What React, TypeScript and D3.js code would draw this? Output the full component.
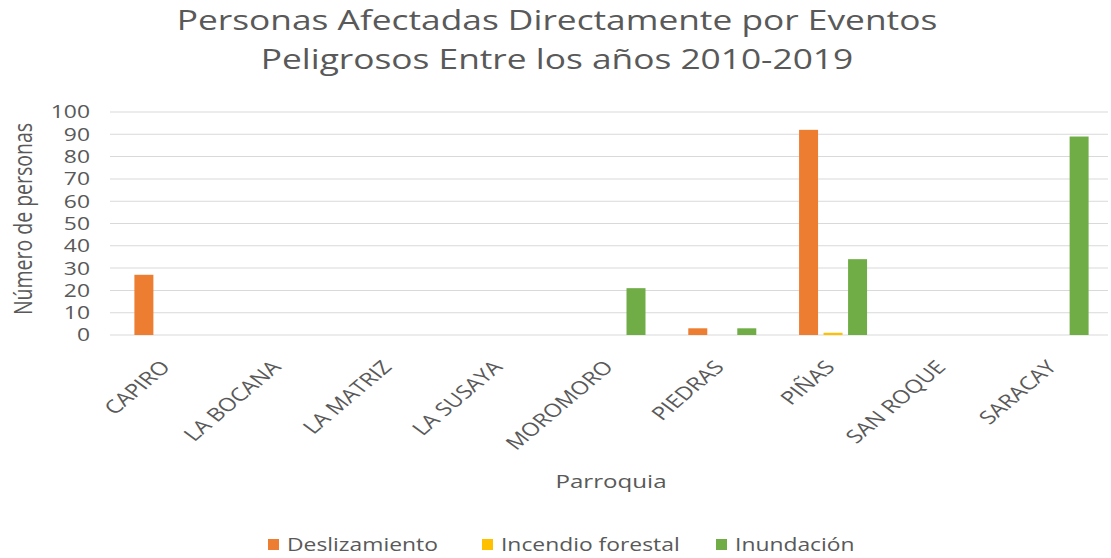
import React from "react";
import * as d3 from "d3";

const categories = ["CAPIRO", "LA BOCANA", "LA MATRIZ", "LA SUSAYA", "MOROMORO", "PIEDRAS", "PIÑAS", "SAN ROQUE", "SARACAY"];
const deslizamiento = [27, 0, 0, 0, 0, 3, 92, 0, 0];
const incendioForestal = [0, 0, 0, 0, 0, 0, 1, 0, 0];
const inundacion = [0, 0, 0, 0, 21, 3, 34, 0, 89];
const seriesNames = ["Deslizamiento", "Incendio forestal", "Inundación"];
const seriesColors = ["#ED7D31", "#FFC000", "#70AD47"];
const yTicks = [0, 10, 20, 30, 40, 50, 60, 70, 80, 90, 100];
const titleLines = ["Personas Afectadas Directamente por Eventos", "Peligrosos Entre los años 2010-2019"];

const W = 1111;
const H = 558;
const S = 1.27; // horizontal stretch of the reference image
const DW = W / S;
const sx = (x: number) => x / S; // screen x -> design x

const FONT = "'Open Sans', sans-serif";
const TXT = "#595959";

export default function App() {
  const seriesData = [deslizamiento, incendioForestal, inundacion];

  const x0 = d3.scaleBand<string>().domain(categories).range([sx(113), sx(1110)]).padding(0);
  const bw = x0.bandwidth();
  const step = sx(24.5);
  const x1 = d3
    .scaleBand<string>()
    .domain(seriesNames)
    .range([bw / 2 - 1.5 * step, bw / 2 + 1.5 * step])
    .paddingInner(0.225)
    .paddingOuter(0.1125);
  const y = d3.scaleLinear().domain([0, 100]).range([335, 112]);

  const legendX = [268, 482, 716];

  return (
    <svg
      width={W}
      height={H}
      viewBox={`0 0 ${DW} ${H}`}
      preserveAspectRatio="none"
      style={{ position: "fixed", left: 0, top: 0, background: "#fff", display: "block" }}
    >
      <rect x={0} y={0} width={DW} height={H} fill="#fff" />
      {/* title */}
      <text x={sx(557)} y={30} textAnchor="middle" fontFamily={FONT} fontSize={27.8} fill={TXT}>
        {titleLines[0]}
      </text>
      <text x={sx(557)} y={69} textAnchor="middle" fontFamily={FONT} fontSize={27.8} fill={TXT}>
        {titleLines[1]}
      </text>

      {/* gridlines */}
      {yTicks.map((t) => (
        <line
          key={"g" + t}
          x1={sx(110)}
          x2={sx(1108)}
          y1={y(t)}
          y2={y(t)}
          stroke="#d9d9d9"
          strokeWidth={1}
        />
      ))}
      {/* y tick labels */}
      {yTicks.map((t) => (
        <text
          key={"t" + t}
          x={sx(90)}
          y={y(t)}
          dy="0.36em"
          textAnchor="end"
          fontFamily={FONT}
          fontSize={18}
          fill={TXT}
        >
          {t}
        </text>
      ))}
      {/* y axis title */}
      <text
        transform={`translate(${sx(32)},${219}) rotate(-90)`}
        textAnchor="middle"
        fontFamily={FONT}
        fontSize={19.5}
        fill={TXT}
      >
        Número de personas
      </text>

      {/* bars */}
      {categories.map((c, i) => (
        <g key={c} transform={`translate(${x0(c)},0)`}>
          {seriesNames.map((s, j) => {
            const v = seriesData[j][i];
            if (!v) return null;
            return (
              <rect
                key={s}
                x={x1(s)}
                y={y(v)}
                width={x1.bandwidth()}
                height={y(0) - y(v)}
                fill={seriesColors[j]}
              />
            );
          })}
        </g>
      ))}

      {/* x labels */}
      {categories.map((c) => (
        <text
          key={"l" + c}
          transform={`translate(${(x0(c) as number) + bw / 2 + sx(3)},${368}) rotate(-47)`}
          textAnchor="end"
          fontFamily={FONT}
          fontSize={18.5}
          fill={TXT}
        >
          {c}
        </text>
      ))}

      {/* x axis title */}
      <text x={sx(611)} y={488} textAnchor="middle" fontFamily={FONT} fontSize={19} fill={TXT}>
        Parroquia
      </text>

      {/* legend */}
      {seriesNames.map((s, j) => (
        <g key={"lg" + s}>
          <rect x={sx(legendX[j])} y={539} width={sx(11)} height={11} fill={seriesColors[j]} />
          <text x={sx(legendX[j] + 19)} y={551} fontFamily={FONT} fontSize={18} fill={TXT}>
            {s}
          </text>
        </g>
      ))}
    </svg>
  );
}
